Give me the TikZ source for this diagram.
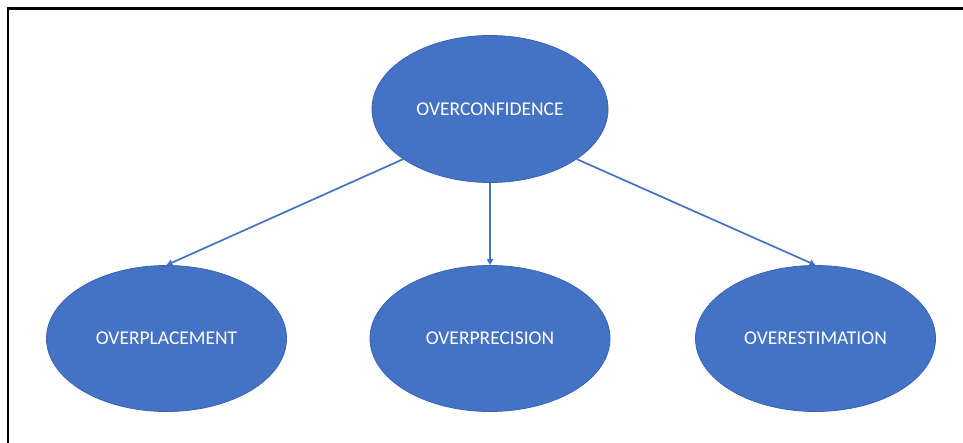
\documentclass[tikz,border=0pt]{standalone}
\usepackage{fontspec}
\setmainfont{Carlito}
\usetikzlibrary{shapes.geometric,arrows.meta}
\definecolor{obl}{HTML}{4472C4}
\definecolor{obd}{HTML}{3A64B0}
\begin{document}
\begin{tikzpicture}[x=1pt,y=-1pt,
  oval/.style={ellipse, fill=obl, draw=obd, line width=0.8pt, inner sep=0pt,
    minimum width=240pt, minimum height=146pt, text=white,
    font=\fontsize{19.5}{23}\selectfont},
  conn/.style={draw=obl, line width=1.7pt, -{Triangle[length=6pt,width=6pt]}}]
\useasboundingbox (0,0) rectangle (963,442);
\fill[white] (0,0) rectangle (963,442);
\draw[line width=2.5pt, line cap=rect] (8,442) -- (8,8.7) -- (963,8.7);
\node[oval, minimum width=236pt, minimum height=147pt] (top) at (490,109) {OVERCONFIDENCE};
\node[oval] (l) at (166.5,338.5) {OVERPLACEMENT};
\node[oval] (m) at (490,338.5) {OVERPRECISION};
\node[oval] (r) at (815.5,338.5) {OVERESTIMATION};
\draw[conn] (top.210) -- (l.north);
\draw[conn] (top.south) -- (m.north);
\draw[conn] (top.330) -- (r.north);
\end{tikzpicture}
\end{document}
